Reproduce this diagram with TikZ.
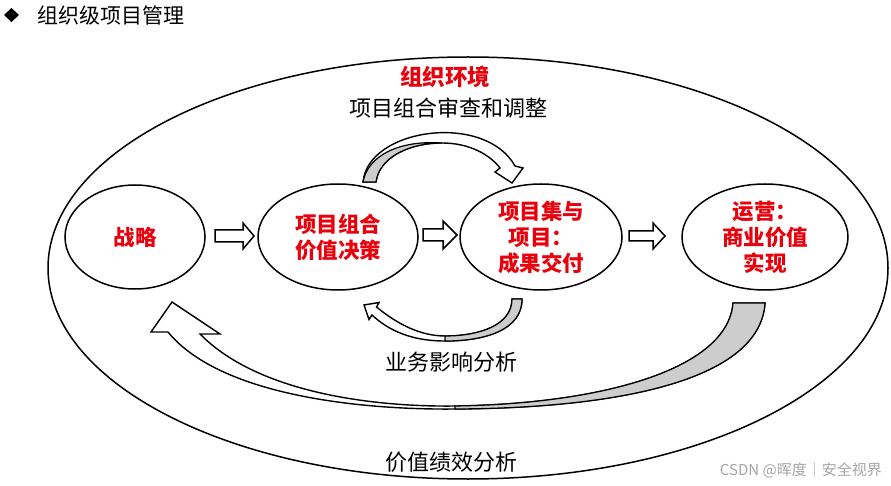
\documentclass[tikz,border=0pt]{standalone}
\usepackage{fontspec}
\setmainfont{Noto Sans CJK SC}
\usetikzlibrary{shapes.geometric}
\definecolor{tred}{RGB}{232,0,12}
\definecolor{agray}{RGB}{205,205,205}
\begin{document}
\begin{tikzpicture}[x=1pt,y=-1pt,
  ell/.style={ellipse, draw, line width=1.5pt, fill=white, inner sep=0pt, align=center,
              text=tred, font=\fontsize{21.5}{26}\selectfont\bfseries},
  blk/.style={draw, line width=1.5pt, fill=white, line join=miter},
  ribbon/.style={draw, line width=1.4pt, fill=white, line join=miter},
  back/.style={draw, line width=1.2pt, fill=agray},
  lbl/.style={font=\fontsize{22}{24}\selectfont, inner sep=0pt}]
\useasboundingbox (0,0) rectangle (891,486);
\fill[white] (0,0) rectangle (891,486);

% title
\fill (11.5,8) -- (19,15) -- (11.5,22) -- (4,15) -- cycle;
\node[lbl, font=\fontsize{21}{24}\selectfont, anchor=west] (title) at (37,15.5) {组织级项目管理};

% organisation environment
\node[ellipse, draw, line width=1.5pt, minimum width=840, minimum height=422, inner sep=0pt] (env) at (468,268) {};
\node[lbl, text=tred, font=\fontsize{22.5}{24}\selectfont\bfseries] (envt) at (445,77) {组织环境};
\node[lbl] (rev) at (448,108) {项目组合审查和调整};
\node[lbl] (bia) at (451,362) {业务影响分析};
\node[lbl] (vpa) at (451,462) {价值绩效分析};

% big return arrow (value performance)
\path[ribbon] (765,303) -- (733,303) .. controls (728,370) and (600,404) .. (455,406)
  .. controls (380,407) and (260,395) .. (200,334) -- (220,334) -- (172,302) -- (151,332) -- (168,332)
  .. controls (222,398) and (370,410) .. (455,409) .. controls (620,408) and (760,380) .. (765,303) -- cycle;
\path[back] (733,303) .. controls (728,370) and (600,404) .. (455,406) -- (455,409)
  .. controls (620,408) and (760,380) .. (765,303) -- cycle;

% top curved arrow (review)
\path[ribbon] (376,182) -- (363,182) .. controls (368,128) and (485,112) .. (515,166)
  -- (523,168) -- (512,183) -- (495,172) -- (500,168)
  .. controls (490,155) and (470,143) .. (442,143) .. controls (408,143) and (379,158) .. (376,182) -- cycle;
\path[back] (363,182) .. controls (368,155) and (400,140) .. (442,143)
  .. controls (408,143) and (379,158) .. (376,182) -- cycle;

% bottom small curved arrow (business impact)
\path[ribbon] (512,299) -- (522,299) .. controls (522,330) and (485,341) .. (445,341)
  .. controls (405,341) and (384,326) .. (372,315) -- (369,319.5) -- (364,305) -- (379,302.5) -- (376.5,307)
  .. controls (390,318) and (415,336) .. (445,336) .. controls (480,336) and (512,325) .. (512,299) -- cycle;
\path[back] (512,299) -- (522,299) .. controls (522,330) and (485,341) .. (445,341) -- (445,336)
  .. controls (480,336) and (512,325) .. (512,299) -- cycle;

% main ellipses
\node[ell, minimum width=140, minimum height=104] (s) at (135,237) {战略};
\node[ell, minimum width=160, minimum height=106] (p) at (338,237) {项目组合\\价值决策};
\node[ell, minimum width=162, minimum height=106] (g) at (541,237) {项目集与\\项目：\\成果交付};
\node[ell, minimum width=166, minimum height=106] (o) at (765,237) {运营：\\商业价值\\实现};

% block arrows
\draw[blk] (215,230) -- (243,230) -- (243,223) -- (254,236) -- (243,249) -- (243,242) -- (215,242) -- cycle;
\draw[blk] (423,229) -- (443,229) -- (443,221) -- (457,235) -- (443,249) -- (443,241) -- (423,241) -- cycle;
\draw[blk] (629,231) -- (653,231) -- (653,223) -- (665,236) -- (653,249) -- (653,241) -- (629,241) -- cycle;

% watermark
\node[font=\fontsize{15}{17}\selectfont, text=black!35, anchor=east, inner sep=0pt] (wm) at (882,470) {CSDN @晖度｜安全视界};
\end{tikzpicture}
\end{document}
